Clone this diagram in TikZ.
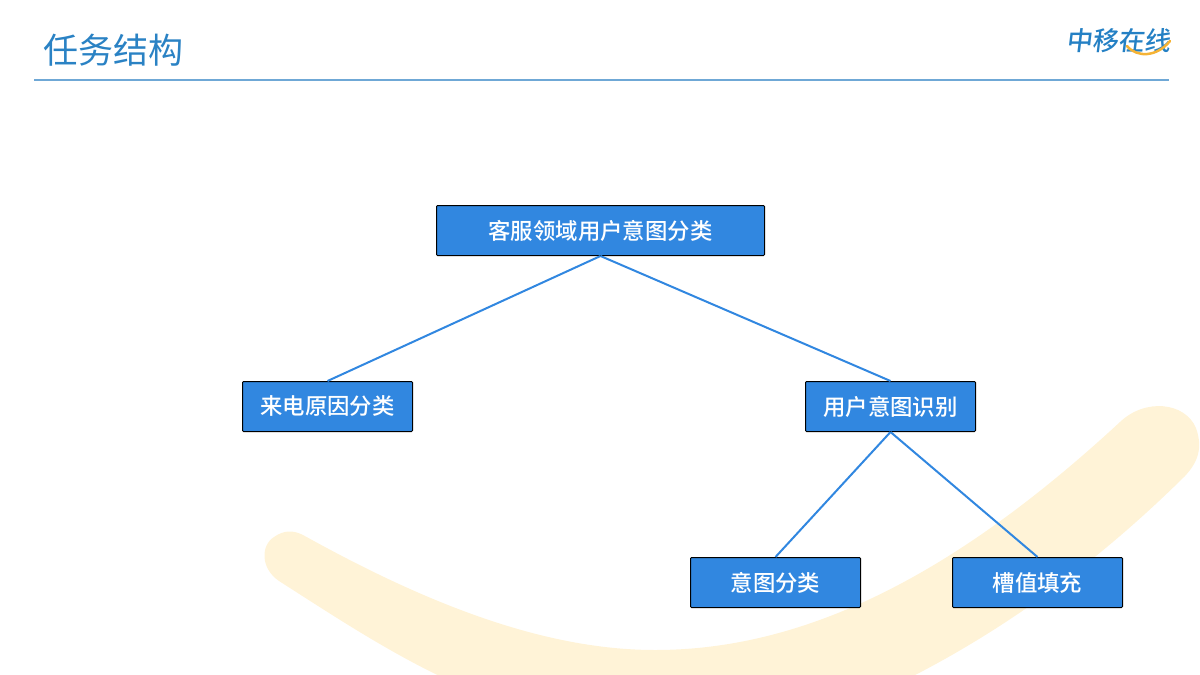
\documentclass[tikz,border=0pt]{standalone}
\usepackage{fontspec}
\setmainfont{Noto Sans CJK SC}
\newfontfamily\cjkreg{Noto Sans CJK SC Medium}
\newfontfamily\cjklight{Noto Sans CJK SC}
\newfontfamily\cjklogo[FakeSlant=0.12]{Noto Sans CJK SC Medium}
\definecolor{boxblue}{HTML}{3187E0}
\definecolor{titleblue}{HTML}{2A82C4}
\definecolor{rulesblue}{HTML}{6FA8D6}
\definecolor{swoosh}{HTML}{FFF3D7}
\definecolor{logoblue}{HTML}{2480C4}
\definecolor{logoorange}{HTML}{F5B335}
\tikzset{
  taskbox/.style={draw=black,line width=1pt,fill=boxblue,text=white,rounded corners=1pt,
    inner sep=0pt,minimum height=50pt,font=\cjkreg\fontsize{22.4}{26}\selectfont},
  link/.style={draw=boxblue,line width=2pt}
}
\begin{document}
\begin{tikzpicture}[x=1pt,y=-1pt]
\useasboundingbox (0,0) rectangle (1200,675);
\begin{scope}
\clip (0,0) rectangle (1200,675);
\fill[swoosh] (303,535)
  .. controls (420,600) and (540,650) .. (655,650)
  .. controls (810,650) and (960,570) .. (1120,422)
  .. controls (1145,398) and (1185,402) .. (1196,428)
  .. controls (1203,448) and (1198,462) .. (1185,476)
  .. controls (1090,570) and (990,640) .. (885,690)
  -- (470,690)
  .. controls (400,660) and (340,620) .. (279,581)
  .. controls (260,568) and (261,545) .. (274,537)
  .. controls (284,530) and (293,530) .. (303,535) -- cycle;
\end{scope}
\node[anchor=west,text=titleblue,inner sep=0pt,font=\cjklight\fontsize{35}{40}\selectfont] (title) at (43,50) {任务结构};
\coordinate (ruleL) at (34,80);
\coordinate (ruleR) at (1169,80);
\draw[rulesblue,line width=1.5pt] (ruleL) -- (ruleR);
\node[anchor=east,text=logoblue,inner sep=0pt,font=\cjklogo\fontsize{26}{30}\selectfont] (logo) at (1171,40.5) {中移在线};
\coordinate (logoA) at (1127,46);
\coordinate (logoB) at (1170,41);
\draw[logoorange,line width=2.5pt,line cap=round] (logoA) .. controls (1137,58) and (1157,57) .. (logoB);
\node[taskbox,minimum width=328pt] (root) at (600.5,230.5) {客服领域用户意图分类};
\node[taskbox,minimum width=170pt] (cause) at (327.5,406.5) {来电原因分类};
\node[taskbox,minimum width=170pt] (intent) at (890.5,406.5) {用户意图识别};
\node[taskbox,minimum width=170pt] (cls) at (775.5,582.5) {意图分类};
\node[taskbox,minimum width=170pt] (slot) at (1037.5,582.5) {槽值填充};
\draw[link] (root.south) -- (cause.north);
\draw[link] (root.south) -- (intent.north);
\draw[link] (intent.south) -- (cls.north);
\draw[link] (intent.south) -- (slot.north);
\end{tikzpicture}
\end{document}
